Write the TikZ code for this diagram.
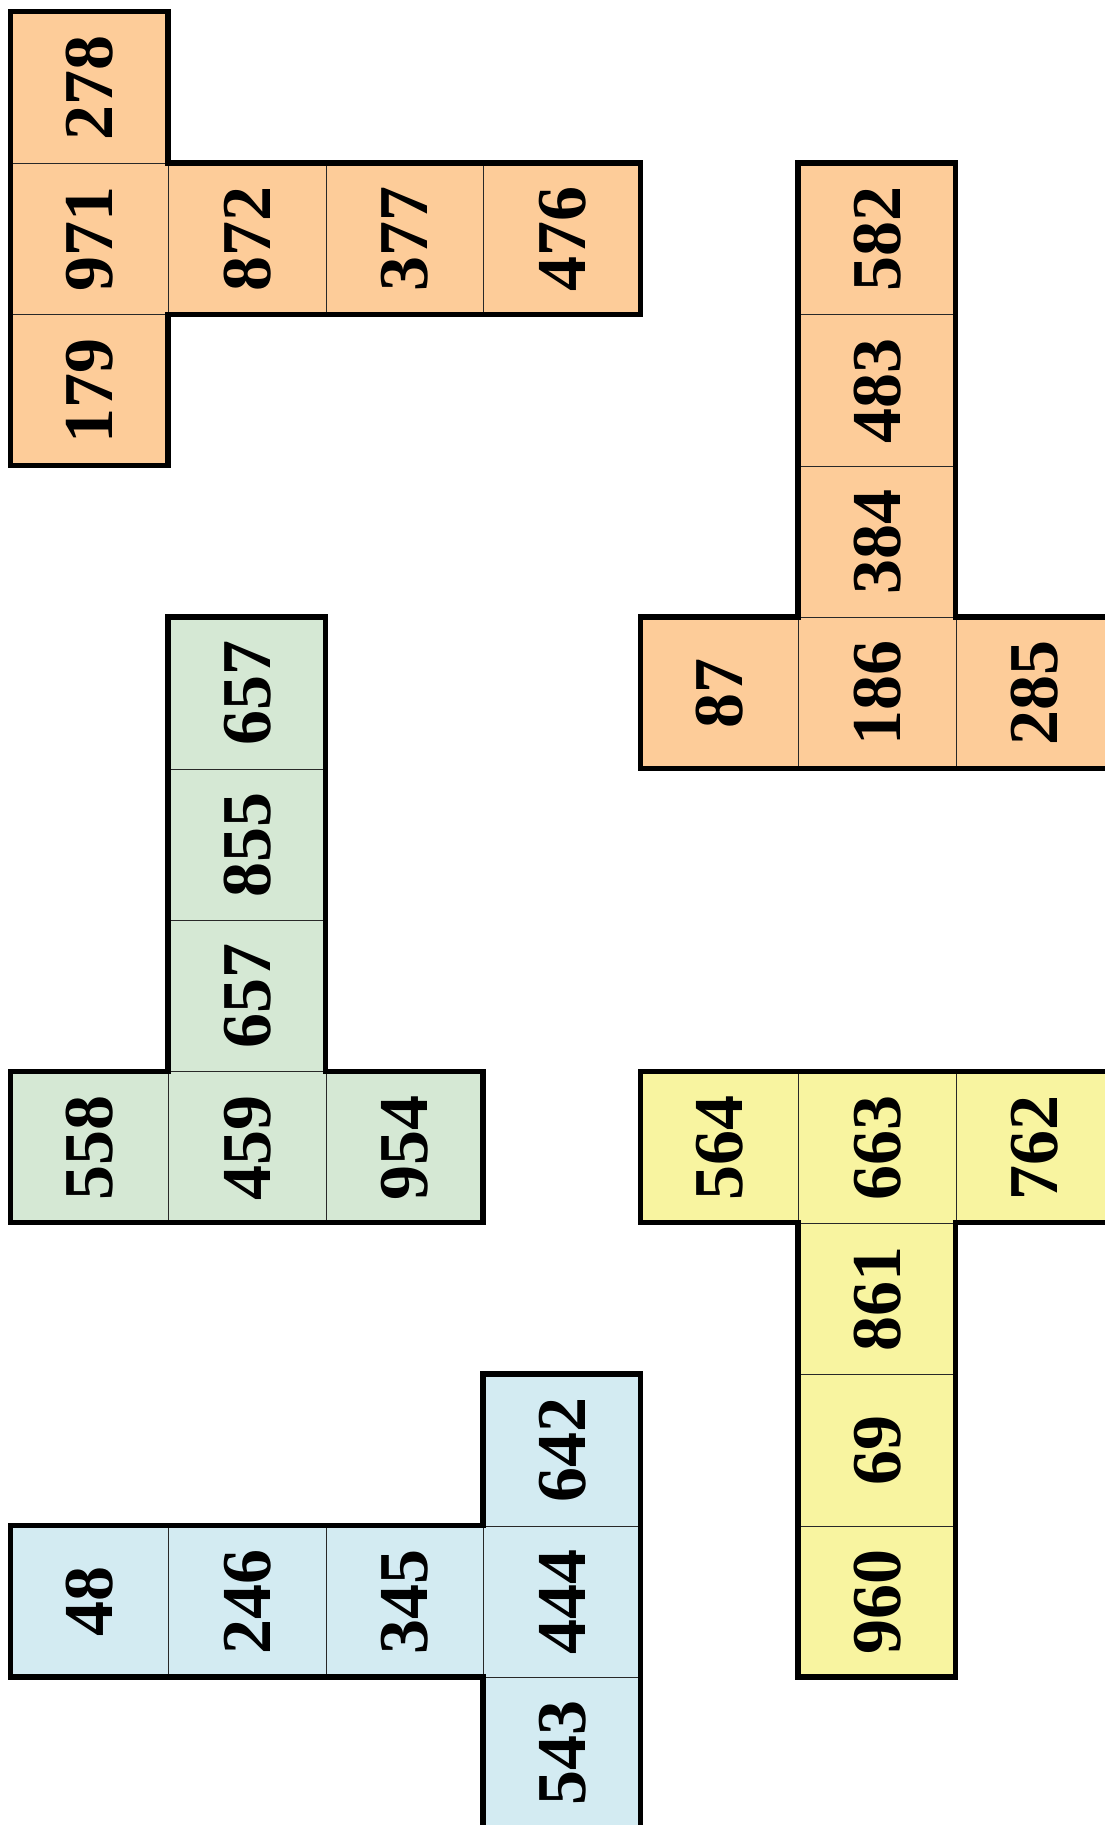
\documentclass[tikz,border=0pt]{standalone}
\usepackage{fontspec}
\setmainfont{Liberation Serif}
\definecolor{corange}{RGB}{253,204,153}
\definecolor{cgreen}{RGB}{213,232,212}
\definecolor{cyellow}{RGB}{248,244,160}
\definecolor{cblue}{RGB}{211,235,242}
\definecolor{thin}{RGB}{40,40,40}
\tikzset{
  cell/.style={draw=thin, line width=1pt, minimum width=157.5pt, minimum height=151.4pt, inner sep=0pt, anchor=north west,
    font=\fontsize{70}{70}\selectfont\bfseries},
  outline/.style={line width=5.5pt, line join=miter, draw=black},
}
\newcommand{\cellnum}[1]{\rotatebox{90}{#1}}
\begin{document}
\begin{tikzpicture}
\useasboundingbox (0,0) rectangle (1105pt,-1825pt);
\clip (0,0) rectangle (1105pt,-1825pt);
\begin{scope}[x=157.5pt, y=-151.4pt, shift={(10.5pt,-11.5pt)}]
% orange T (top left)
\node[cell, fill=corange] (a1) at (0,0) {\cellnum{278}};
\node[cell, fill=corange] (a2) at (0,1) {\cellnum{971}};
\node[cell, fill=corange] (a3) at (0,2) {\cellnum{179}};
\node[cell, fill=corange] (a4) at (1,1) {\cellnum{872}};
\node[cell, fill=corange] (a5) at (2,1) {\cellnum{377}};
\node[cell, fill=corange] (a6) at (3,1) {\cellnum{476}};
\draw[outline] (0,0) -- (1,0) -- (1,1) -- (4,1) -- (4,2) -- (1,2) -- (1,3) -- (0,3) -- cycle;
% orange (right)
\node[cell, fill=corange] (b1) at (5,1) {\cellnum{582}};
\node[cell, fill=corange] (b2) at (5,2) {\cellnum{483}};
\node[cell, fill=corange] (b3) at (5,3) {\cellnum{384}};
\node[cell, fill=corange] (b4) at (4,4) {\cellnum{87}};
\node[cell, fill=corange] (b5) at (5,4) {\cellnum{186}};
\node[cell, fill=corange] (b6) at (6,4) {\cellnum{285}};
\draw[outline] (5,1) -- (6,1) -- (6,4) -- (7,4) -- (7,5) -- (4,5) -- (4,4) -- (5,4) -- cycle;
% green
\node[cell, fill=cgreen] (c1) at (1,4) {\cellnum{657}};
\node[cell, fill=cgreen] (c2) at (1,5) {\cellnum{855}};
\node[cell, fill=cgreen] (c3) at (1,6) {\cellnum{657}};
\node[cell, fill=cgreen] (c4) at (0,7) {\cellnum{558}};
\node[cell, fill=cgreen] (c5) at (1,7) {\cellnum{459}};
\node[cell, fill=cgreen] (c6) at (2,7) {\cellnum{954}};
\draw[outline] (1,4) -- (2,4) -- (2,7) -- (3,7) -- (3,8) -- (0,8) -- (0,7) -- (1,7) -- cycle;
% yellow
\node[cell, fill=cyellow] (d1) at (4,7) {\cellnum{564}};
\node[cell, fill=cyellow] (d2) at (5,7) {\cellnum{663}};
\node[cell, fill=cyellow] (d3) at (6,7) {\cellnum{762}};
\node[cell, fill=cyellow] (d4) at (5,8) {\cellnum{861}};
\node[cell, fill=cyellow] (d5) at (5,9) {\cellnum{69}};
\node[cell, fill=cyellow] (d6) at (5,10) {\cellnum{960}};
\draw[outline] (4,7) -- (7,7) -- (7,8) -- (6,8) -- (6,11) -- (5,11) -- (5,8) -- (4,8) -- cycle;
% blue
\node[cell, fill=cblue] (e1) at (3,9) {\cellnum{642}};
\node[cell, fill=cblue] (e2) at (0,10) {\cellnum{48}};
\node[cell, fill=cblue] (e3) at (1,10) {\cellnum{246}};
\node[cell, fill=cblue] (e4) at (2,10) {\cellnum{345}};
\node[cell, fill=cblue] (e5) at (3,10) {\cellnum{444}};
\node[cell, fill=cblue] (e6) at (3,11) {\cellnum{543}};
\draw[outline] (3,9) -- (4,9) -- (4,12) -- (3,12) -- (3,11) -- (0,11) -- (0,10) -- (3,10) -- cycle;
\end{scope}
\end{tikzpicture}
\end{document}
